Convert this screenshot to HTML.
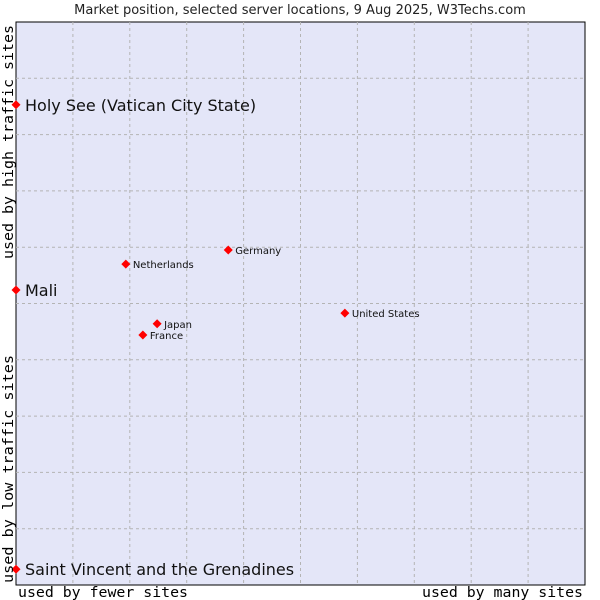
<!DOCTYPE html>
<html><head><meta charset="utf-8"><style>
body{margin:0;background:#fff;}
svg{display:block;font-family:"DejaVu Sans","Liberation Sans",sans-serif;}
</style></head><body>
<svg id="chart" width="600" height="600" xmlns="http://www.w3.org/2000/svg">
<text x="300" y="14" text-anchor="middle" font-size="13" fill="#222">Market position, selected server locations, 9 Aug 2025, W3Techs.com</text>
<rect x="16" y="22" width="569" height="563" fill="#e4e6f8" stroke="#000" stroke-width="1"/>
<g id="grid"></g>
<g id="points"></g>
<text x="18" y="597" font-family="DejaVu Sans Mono,Liberation Mono,monospace" font-size="14" textLength="170" lengthAdjust="spacingAndGlyphs">used by fewer sites</text>
<text x="422" y="597" font-family="DejaVu Sans Mono,Liberation Mono,monospace" font-size="14" textLength="161" lengthAdjust="spacingAndGlyphs">used by many sites</text>
<text transform="translate(13,583) rotate(-90)" font-family="DejaVu Sans Mono,Liberation Mono,monospace" font-size="14" textLength="228" lengthAdjust="spacingAndGlyphs">used by low traffic sites</text>
<text transform="translate(13,259) rotate(-90)" font-family="DejaVu Sans Mono,Liberation Mono,monospace" font-size="14" textLength="234" lengthAdjust="spacingAndGlyphs">used by high traffic sites</text>
</svg>
<script>
const names=["Holy See (Vatican City State)","Mali","Saint Vincent and the Grenadines","Netherlands","Germany","Japan","France","United States"];
const xs=[0,0,0,19.3,37.3,24.8,22.3,57.8];
const ys=[85.3,52.4,2.8,57.0,59.5,46.4,44.4,48.3];
const big=[true,true,true,false,false,false,false,false];
const L=16,T=22,W=569,H=563;
const sx=v=>L+v/100*W, sy=v=>T+H-v/100*H;
const ns="http://www.w3.org/2000/svg";
const g=document.getElementById('grid'), p=document.getElementById('points');
for(let i=1;i<10;i++){
 const a=document.createElementNS(ns,'line');
 
 
 a.setAttribute('x1',sx(i*10));a.setAttribute('x2',sx(i*10));a.setAttribute('y1',T);a.setAttribute('y2',T+H);
 a.setAttribute('stroke','#b4b4b4');a.setAttribute('stroke-dasharray','3,3');g.appendChild(a);
 const b=document.createElementNS(ns,'line');
 
 
 b.setAttribute('y1',sy(i*10));b.setAttribute('y2',sy(i*10));b.setAttribute('x1',L);b.setAttribute('x2',L+W);
 b.setAttribute('stroke','#b4b4b4');b.setAttribute('stroke-dasharray','3,3');g.appendChild(b);
}
names.forEach((n,i)=>{
 const x=sx(xs[i]),y=sy(ys[i]);
 const d=document.createElementNS(ns,'path');
 
 
 d.setAttribute('d',`M${x-4.5},${y}L${x},${y-4.5}L${x+4.5},${y}L${x},${y+4.5}Z`);
 d.setAttribute('fill','#f00');p.appendChild(d);
 const t=document.createElementNS(ns,'text');
 
 
 t.setAttribute('x',x+(big[i]?9:7));t.setAttribute('y',y+(big[i]?6:4));
 t.setAttribute('font-size',big[i]?'16':'10');t.setAttribute('fill','#111');
 t.textContent=n;p.appendChild(t);
});
</script>
</body></html>
